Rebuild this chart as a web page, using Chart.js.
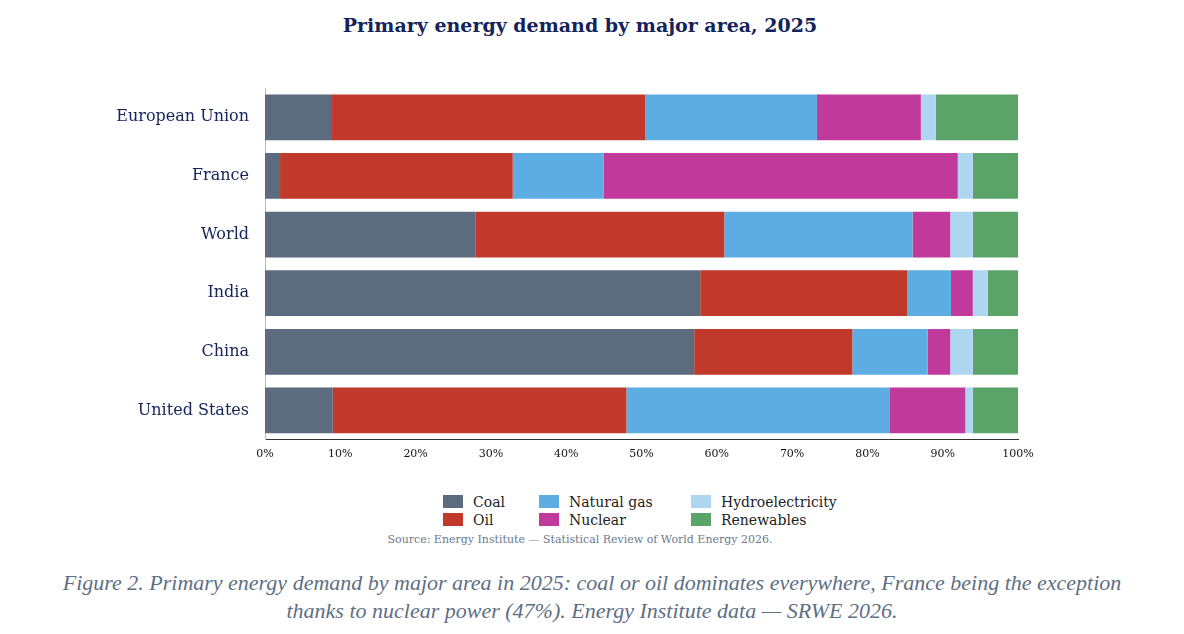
<!DOCTYPE html>
<html>
<head>
<meta charset="utf-8">
<script src="https://cdn.jsdelivr.net/npm/chart.js@4/dist/chart.umd.min.js"></script>
<style>
  body { margin: 0; width: 1184px; height: 634px; background: #fff; position: relative; overflow: hidden; font-family: 'DejaVu Serif', serif; }
  #title { position: absolute; top: 14px; left: 0; width: 1160px; text-align: center; font-weight: bold; font-size: 19px; color: #14235a; }
  #wrap { position: absolute; top: 0; left: 0; width: 1184px; height: 472px; }
  #legend { position: absolute; top: 494px; left: 443px; display: grid; grid-template-columns: 96px 152px 170px; row-gap: 2px; font-size: 14px; color: #222; }
  #legend span.sw { display: inline-block; width: 20px; height: 13px; margin-right: 10px; vertical-align: -1px; }
  #source { position: absolute; top: 533px; left: 0; width: 1160px; text-align: center; font-size: 11px; color: #6b7a8c; }
  #caption { position: absolute; top: 569px; left: 0; width: 1184px; text-align: center; font-family: 'Liberation Serif', serif; font-style: italic; font-size: 22px; line-height: 28px; color: #5e6f84; }
</style>
</head>
<body>
<div id="title">Primary energy demand by major area, 2025</div>
<div id="wrap"><canvas id="c"></canvas></div>
<div id="legend"></div>
<div id="source">Source: Energy Institute — Statistical Review of World Energy 2026.</div>
<div id="caption">Figure 2. Primary energy demand by major area in 2025: coal or oil dominates everywhere, France being the exception<br>thanks to nuclear power (47%). Energy Institute data — SRWE 2026.</div>
<script>
const areas = ['European Union', 'France', 'World', 'India', 'China', 'United States']
const coal = [8.9, 2, 28, 57.8, 57, 9]
const oil = [41.6, 30.9, 33, 27.5, 21, 39]
const gas = [22.8, 12.1, 25, 5.8, 10, 35]
const nuclear = [13.8, 47, 5, 2.9, 3, 10]
const hydro = [2, 2, 3, 2, 3, 1]
const renewables = [10.9, 6, 6, 4, 6, 6]

const series = [
    { label: 'Coal', data: coal, color: '#5d6b7e' },
    { label: 'Oil', data: oil, color: '#c0392b' },
    { label: 'Natural gas', data: gas, color: '#5dade2' },
    { label: 'Nuclear', data: nuclear, color: '#c0399b' },
    { label: 'Hydroelectricity', data: hydro, color: '#aed6f1' },
    { label: 'Renewables', data: renewables, color: '#5aa469' },
]

// legend laid out column-wise like the original
const legend = document.getElementById('legend')
;[0, 2, 4, 1, 3, 5].forEach(i => {
    const d = document.createElement('div')
    d.innerHTML = `<span class="sw" style="background:${series[i].color}"></span>${series[i].label}`
    legend.appendChild(d)
})

new Chart(document.getElementById('c'), {
    type: 'bar',
    data: {
        labels: areas,
        datasets: series.map(s => ({
            label: s.label,
            data: s.data,
            backgroundColor: s.color,
            borderWidth: 0,
            barPercentage: 0.78,
            categoryPercentage: 1,
        })),
    },
    options: {
        indexAxis: 'y',
        responsive: true,
        maintainAspectRatio: false,
        animation: false,
        layout: { padding: { top: 88, right: 166, bottom: 8, left: 0 } },
        plugins: { legend: { display: false }, tooltip: { enabled: false } },
        scales: {
            x: {
                stacked: true,
                min: 0,
                max: 100,
                grid: { display: false, drawTicks: true, tickLength: 5, color: '#333' },
                border: { color: '#333' },
                ticks: { stepSize: 10, callback: v => v + '%', color: '#111', font: { family: 'DejaVu Serif', size: 11 } },
            },
            y: {
                stacked: true,
                grid: { display: false },
                border: { color: '#bbb' },
                ticks: { color: '#14235a', font: { family: 'DejaVu Serif', size: 16 }, padding: 8 },
                afterFit: scale => { scale.width = 265 },
            },
        },
    },
})
</script>
</body>
</html>
